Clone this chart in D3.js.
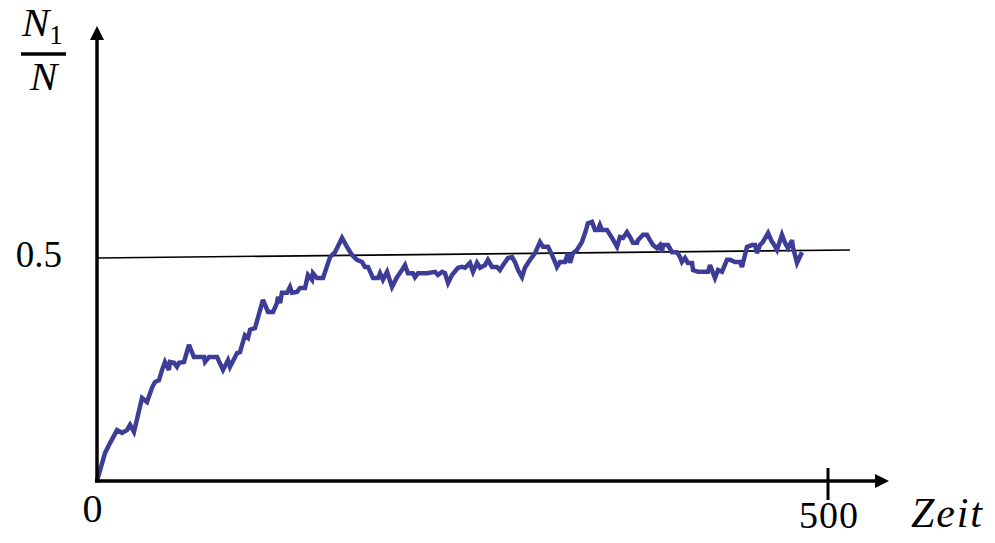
<!DOCTYPE html>
<html>
<head>
<meta charset="utf-8">
<script src="https://cdn.jsdelivr.net/npm/d3@7"></script>
<style>
  html, body { margin: 0; padding: 0; background: #fff; }
  svg { display: block; }
</style>
</head>
<body>
<div id="chart"></div>
<script>
// ---- data ----
const timeSteps = [0,5.5,8.9,13.7,17.1,20.5,22.6,25.3,30.8,34.2,37.6,39.7,42.4,44.5,46.5,49.2,49.9,52.7,54.7,56.1,59.5,62.9,66.3,73.2,73.9,76.6,82.1,86.2,89.6,91.0,95.8,97.8,101.2,103.3,104.7,108.1,113.5,117.0,120.4,123.1,123.8,125.2,126.5,130.0,132.0,133.4,136.8,138.9,142.3,144.3,147.1,147.7,150.5,154.6,159.4,162.8,167.6,171.0,174.4,177.8,181.3,183.3,185.4,188.8,192.2,193.6,195.6,198.4,201.8,205.2,208.6,210.7,212.7,216.1,217.5,219.6,225.7,231.2,233.2,236.0,238.0,240.1,242.8,246.9,249.7,251.7,255.1,257.2,259.9,262.0,265.4,267.4,270.2,273.6,275.6,277.7,281.1,283.9,285.9,288.0,290.7,292.7,296.2,299.6,303.0,305.1,308.5,311.2,313.3,314.6,316.7,320.1,322.2,323.5,325.6,328.3,331.7,333.8,335.8,338.6,340.6,342.7,344.0,345.4,348.8,352.3,355.7,357.7,359.8,362.5,364.6,366.6,369.4,370.0,373.5,376.2,378.2,380.3,383.0,385.1,386.5,387.1,390.6,393.3,396.7,398.8,400.1,402.2,404.2,407.0,407.7,411.1,417.9,419.3,422.7,424.8,427.5,430.9,433.0,436.4,439.8,441.2,444.6,448.0,450.1,451.4,453.5,455.5,459.0,461.7,462.4,465.1,468.5,470.6,472.6,475.4,476.0,478.8,482.2];
const fractionN1 = [0,0.063,0.085,0.114,0.108,0.114,0.126,0.110,0.186,0.177,0.209,0.222,0.226,0.249,0.267,0.249,0.267,0.265,0.256,0.265,0.267,0.305,0.278,0.278,0.267,0.278,0.278,0.249,0.271,0.256,0.287,0.289,0.327,0.321,0.339,0.343,0.406,0.379,0.379,0.399,0.413,0.399,0.422,0.422,0.435,0.422,0.424,0.433,0.433,0.462,0.451,0.466,0.455,0.455,0.502,0.513,0.545,0.525,0.507,0.496,0.491,0.480,0.480,0.455,0.455,0.466,0.451,0.469,0.435,0.457,0.473,0.484,0.466,0.466,0.457,0.466,0.466,0.469,0.462,0.469,0.466,0.444,0.462,0.478,0.480,0.478,0.489,0.469,0.489,0.478,0.484,0.496,0.480,0.480,0.473,0.484,0.500,0.502,0.491,0.473,0.457,0.478,0.496,0.511,0.536,0.525,0.525,0.507,0.491,0.480,0.491,0.491,0.511,0.489,0.511,0.518,0.536,0.556,0.578,0.581,0.563,0.563,0.574,0.563,0.563,0.545,0.525,0.547,0.545,0.558,0.547,0.534,0.534,0.540,0.552,0.552,0.540,0.529,0.522,0.529,0.513,0.529,0.529,0.513,0.513,0.502,0.491,0.500,0.489,0.489,0.473,0.469,0.469,0.484,0.455,0.473,0.469,0.496,0.496,0.491,0.491,0.480,0.525,0.529,0.529,0.511,0.529,0.536,0.556,0.536,0.534,0.518,0.552,0.534,0.522,0.540,0.525,0.489,0.513];
const refLineT = [0, 515];
const refLineV = [0.5, 0.518];
const xTickValues = [500];
const xTickLabels = ["500"];
const yTickValues = [0.5];
const yTickLabels = ["0.5"];
const xAxisTitle = "Zeit";

// ---- layout ----
const W = 995, H = 543;
const x0 = 97, y0 = 481;
const x = d3.scaleLinear().domain([0, 500]).range([x0, 828]);
const y = d3.scaleLinear().domain([0, 1]).range([y0, 35]);
const serif = "'Liberation Serif', 'DejaVu Serif', serif";

const svg = d3.select("#chart").append("svg")
  .attr("width", W).attr("height", H)
  .attr("viewBox", `0 0 ${W} ${H}`);

// reference line at 0.5
svg.append("line")
  .attr("x1", x(refLineT[0])).attr("y1", y(refLineV[0]))
  .attr("x2", x(refLineT[1])).attr("y2", y(refLineV[1]))
  .attr("stroke", "#000").attr("stroke-width", 1.6);

// data line
const pts = timeSteps.map((t, i) => [t, fractionN1[i]]);
svg.append("path")
  .datum(pts)
  .attr("fill", "none")
  .attr("stroke", "#3d3d98")
  .attr("stroke-width", 4.5)
  .attr("stroke-linejoin", "miter")
  .attr("stroke-miterlimit", 3)
  .attr("d", d3.line().x(d => x(d[0])).y(d => y(d[1])));

// axes
const axisG = svg.append("g");
axisG.append("line")
  .attr("x1", x0 - 2).attr("y1", y0).attr("x2", 878).attr("y2", y0)
  .attr("stroke", "#000").attr("stroke-width", 3.5);
axisG.append("path")
  .attr("d", `M 889 ${y0} L 875 ${y0 - 7} L 875 ${y0 + 7} Z`)
  .attr("fill", "#000");
axisG.append("line")
  .attr("x1", x0).attr("y1", y0 + 1.5).attr("x2", x0).attr("y2", 38)
  .attr("stroke", "#000").attr("stroke-width", 3.5);
axisG.append("path")
  .attr("d", `M ${x0} 26 L ${x0 - 7} 40 L ${x0 + 7} 40 Z`)
  .attr("fill", "#000");

// x ticks
xTickValues.forEach((v, i) => {
  axisG.append("line")
    .attr("x1", x(v)).attr("x2", x(v))
    .attr("y1", y0 - 13).attr("y2", y0 + 19)
    .attr("stroke", "#000").attr("stroke-width", 3);
  svg.append("text")
    .attr("x", x(v) - 29).attr("y", 528)
    .attr("font-family", serif)
    .attr("font-size", 38)
    .attr("textLength", 59).attr("lengthAdjust", "spacing")
    .text(xTickLabels[i]);
});

// origin label
svg.append("text")
  .attr("x", 92.5).attr("y", 522)
  .attr("text-anchor", "middle")
  .attr("font-family", serif)
  .attr("font-size", 40)
  .text("0");

// y tick labels
yTickValues.forEach((v, i) => {
  svg.append("text")
    .attr("x", 62).attr("y", y(v) + 9)
    .attr("text-anchor", "end")
    .attr("font-family", serif)
    .attr("font-size", 37)
    .text(yTickLabels[i]);
});

// x axis title
svg.append("text")
  .attr("x", 911).attr("y", 527)
  .attr("font-family", serif)
  .attr("font-style", "italic")
  .attr("font-size", 42)
  .attr("textLength", 71).attr("lengthAdjust", "spacing")
  .text(xAxisTitle);

// y axis title: N1 / N
const yt = svg.append("g").attr("font-family", serif)
  .attr("font-style", "italic");
const numText = yt.append("text").attr("x", 22).attr("y", 36).attr("font-size", 41);
numText.append("tspan").text("N");
numText.append("tspan").attr("font-style", "normal").attr("font-size", 27).attr("dy", 8).text("1");
yt.append("line")
  .attr("x1", 21).attr("x2", 66).attr("y1", 54).attr("y2", 54)
  .attr("stroke", "#000").attr("stroke-width", 3.5);
yt.append("text").attr("x", 30).attr("y", 90).attr("font-size", 41).text("N");
</script>
</body>
</html>
